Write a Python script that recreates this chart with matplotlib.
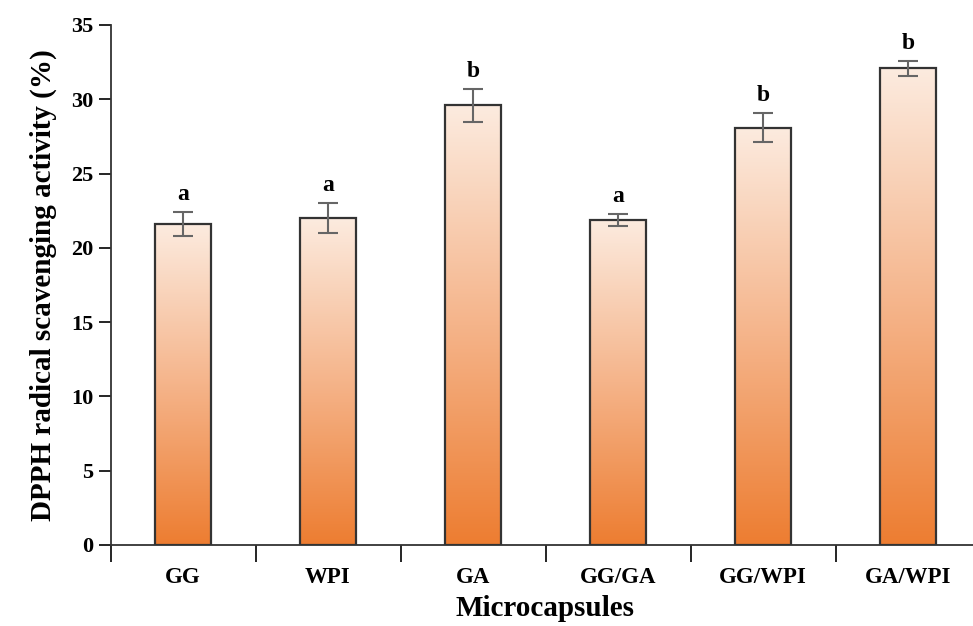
import matplotlib
matplotlib.use("Agg")
import matplotlib.pyplot as plt
import numpy as np
from matplotlib.colors import LinearSegmentedColormap

# DPPH scavenging of the microcapsules
capsules = ['GG', 'WPI', 'GA', 'GG/GA', 'GG/WPI', 'GA/WPI']
activity = [21.6, 22.0, 29.6, 21.9, 28.1, 32.1]
errors = [0.8, 1.0, 1.1, 0.4, 1.0, 0.5]
letters = ['a', 'a', 'b', 'a', 'b', 'b']

plt.rcParams['font.family'] = ['Liberation Serif', 'DejaVu Serif']
plt.rcParams['font.weight'] = 'bold'

fig = plt.figure(figsize=(9.73, 6.26), dpi=100)
ax = fig.add_axes([110.5 / 973, 81 / 626, 870 / 973, 520 / 626])

x = np.arange(len(capsules))
bars = ax.bar(x, activity, width=0.39, color='none', edgecolor='#333333',
              linewidth=1.6, zorder=3)

# light peach at the top of each bar, orange at the bottom
cmap = LinearSegmentedColormap.from_list('peach', ['#ED7D31', '#F5B48A', '#FCEBDF'])
grad = np.linspace(0, 1, 256).reshape(-1, 1)
for b in bars:
    x0, w, h = b.get_x(), b.get_width(), b.get_height()
    im = ax.imshow(grad, cmap=cmap, origin='lower', aspect='auto',
                   extent=[x0, x0 + w, 0, h], zorder=2)
    im.set_clip_path(b)

ax.errorbar(x, activity, yerr=errors, fmt='none', ecolor='#666666',
            elinewidth=1.5, capsize=7, capthick=1.5, zorder=4)

for xi, v, e, s in zip(x, activity, errors, letters):
    ax.annotate(s, (xi, v + e), xytext=(0, 5), textcoords='offset points',
                ha='center', va='bottom', fontsize=17, fontweight='bold')

ax.set_xlim(-0.5, len(capsules) - 0.5)
ax.set_ylim(0, 35)
ax.set_yticks(np.arange(0, 36, 5))
ax.set_xticks(x)
ax.set_xticklabels(capsules, fontsize=16.5, fontweight='bold')
ax.set_xticks(np.arange(-0.5, len(capsules), 1), minor=True)
ax.tick_params(axis='x', which='major', length=0, pad=16)
ax.tick_params(axis='x', which='minor', length=12, width=1.2, direction='out')
ax.tick_params(axis='y', length=9, width=1.2, direction='out', labelsize=16)
for lab in ax.get_yticklabels():
    lab.set_fontweight('bold')

for side in ['top', 'right']:
    ax.spines[side].set_visible(False)
ax.spines['left'].set_linewidth(1.3)
ax.spines['bottom'].set_linewidth(1.3)
ax.spines['left'].set_color('#333333')
ax.spines['bottom'].set_color('#333333')

ax.set_ylabel('DPPH radical scavenging activity (%)', fontsize=21,
              fontweight='bold', labelpad=10)
ax.set_xlabel('Microcapsules', fontsize=21, fontweight='bold', labelpad=5)

fig.savefig('out.png', dpi=100)
